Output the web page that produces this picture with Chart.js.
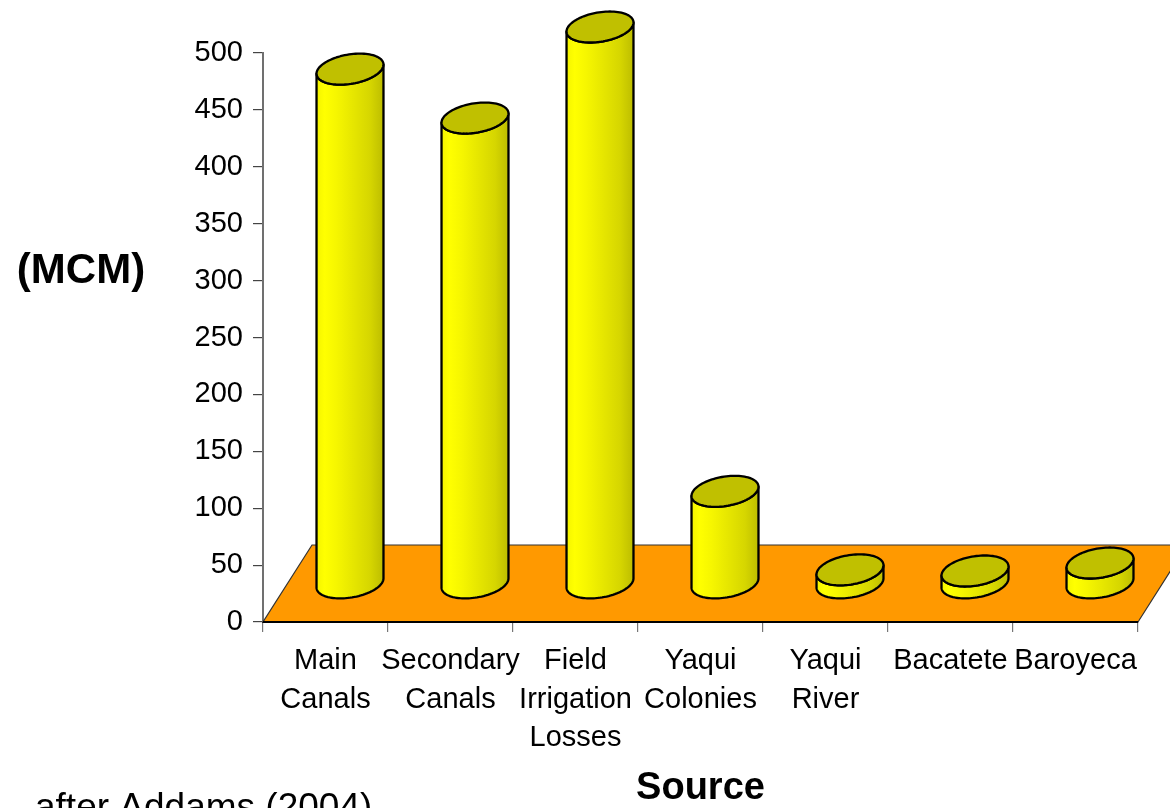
<!DOCTYPE html>
<html>
<head>
<meta charset="utf-8">
<script src="https://cdn.jsdelivr.net/npm/chart.js@4/dist/chart.umd.min.js"></script>
<style>
    html, body { margin: 0; padding: 0; background: #fff; }
    #wrap { width: 1170px; height: 808px; }
</style>
</head>
<body>
<div id="wrap"><canvas id="rechargeChart" width="1170" height="808"></canvas></div>
<script>
// values (MCM)
const categories = [
    ["Main", "Canals"],
    ["Secondary", "Canals"],
    ["Field", "Irrigation", "Losses"],
    ["Yaqui", "Colonies"],
    ["Yaqui", "River"],
    ["Bacatete"],
    ["Baroyeca"]
];
const recharge = [452, 409, 489, 81, 12, 11, 18];
const yMin = 0;
const yMax = 500;
const yStep = 50;

const yTitle = "(MCM)";
const xTitle = "Source";
const credit = "after Addams (2004)";

// oblique depth of the floor
const depthX = 49;
const depthY = 77;
const ringY = 15.5;

const floorPlugin = {
    id: "floor",
    beforeDatasetsDraw(chart) {
        const ctx = chart.ctx;
        const area = chart.chartArea;
        const y0 = chart.scales.y.getPixelForValue(0);
        ctx.save();
        ctx.beginPath();
        ctx.moveTo(area.left, y0);
        ctx.lineTo(area.right, y0);
        ctx.lineTo(area.right + depthX, y0 - depthY);
        ctx.lineTo(area.left + depthX, y0 - depthY);
        ctx.closePath();
        ctx.fillStyle = "#FF9900";
        ctx.fill();
        ctx.lineWidth = 1.2;
        ctx.strokeStyle = "#333";
        ctx.stroke();
        ctx.beginPath();
        ctx.moveTo(area.left, y0);
        ctx.lineTo(area.right, y0);
        ctx.lineWidth = 2;
        ctx.strokeStyle = "#000";
        ctx.stroke();
        ctx.restore();
    }
};

function ringPoint(cx, cy, rx, sx, t) {
    return [cx + rx * Math.cos(t) + sx * Math.sin(t), cy - ringY * Math.sin(t)];
}

const cylinderPlugin = {
    id: "cylinders",
    afterDatasetsDraw(chart) {
        const ctx = chart.ctx;
        const meta = chart.getDatasetMeta(0);
        const sx = ringY * depthX / depthY;
        ctx.save();
        meta.data.forEach(bar => {
            const rx = bar.width / 2;
            const cx = bar.x + depthX / 2;
            const baseY = bar.base - depthY / 2;
            const topY = bar.y - depthY / 2;
            const t0 = Math.atan2(sx, rx);
            const half = Math.sqrt(rx * rx + sx * sx);
            const n = 48;

            // side
            ctx.beginPath();
            for (let i = 0; i <= n; i++) {
                const t = t0 + Math.PI + Math.PI * i / n;
                const p = ringPoint(cx, baseY, rx, sx, t);
                if (i === 0) ctx.moveTo(p[0], p[1]); else ctx.lineTo(p[0], p[1]);
            }
            for (let i = n; i >= 0; i--) {
                const t = t0 + Math.PI + Math.PI * i / n;
                const p = ringPoint(cx, topY, rx, sx, t);
                ctx.lineTo(p[0], p[1]);
            }
            ctx.closePath();
            const grad = ctx.createLinearGradient(cx - half, 0, cx + half, 0);
            grad.addColorStop(0, "#F4F400");
            grad.addColorStop(0.12, "#FFFF00");
            grad.addColorStop(0.3, "#F6F600");
            grad.addColorStop(0.55, "#E6E600");
            grad.addColorStop(0.8, "#D6D600");
            grad.addColorStop(1, "#BDBD00");
            ctx.fillStyle = grad;
            ctx.fill();
            ctx.lineWidth = 2.3;
            ctx.lineJoin = "round";
            ctx.strokeStyle = "#000";
            ctx.stroke();

            // top
            ctx.beginPath();
            for (let i = 0; i <= n * 2; i++) {
                const t = Math.PI * i / n;
                const p = ringPoint(cx, topY, rx, sx, t);
                if (i === 0) ctx.moveTo(p[0], p[1]); else ctx.lineTo(p[0], p[1]);
            }
            ctx.closePath();
            ctx.fillStyle = "#C0C000";
            ctx.fill();
            ctx.stroke();
        });
        ctx.restore();
    }
};

const textPlugin = {
    id: "extraText",
    afterDraw(chart) {
        const ctx = chart.ctx;
        ctx.save();
        ctx.fillStyle = "#000";
        ctx.font = "bold 42px 'Liberation Sans', Arial, sans-serif";
        ctx.textAlign = "center";
        ctx.textBaseline = "middle";
        ctx.fillText(yTitle, 81, 271);
        ctx.font = "37px 'Liberation Sans', Arial, sans-serif";
        ctx.textAlign = "left";
        ctx.textBaseline = "alphabetic";
        ctx.fillText(credit, 35, 819);
        ctx.restore();
    }
};

const rechargeChart = new Chart(document.getElementById("rechargeChart"), {
    type: "bar",
    data: {
        labels: categories,
        datasets: [{
            label: "Recharge (MCM)",
            data: recharge,
            backgroundColor: "rgba(0,0,0,0)",
            borderWidth: 0,
            categoryPercentage: 1,
            barPercentage: 0.512
        }]
    },
    options: {
        responsive: false,
        animation: false,
        devicePixelRatio: 1,
        layout: { padding: { left: 0, right: 32, top: 53, bottom: 0 } },
        plugins: {
            legend: { display: false },
            tooltip: { enabled: false }
        },
        scales: {
            x: {
                afterFit(scale) { scale.height = 186; },
                grid: {
                    drawOnChartArea: false,
                    tickLength: 10,
                    color: "#777",
                    lineWidth: 1.2
                },
                border: { display: true, color: "#000", width: 2 },
                ticks: {
                    color: "#000",
                    padding: 10,
                    maxRotation: 0,
                    autoSkip: false,
                    font: { family: "'Liberation Sans', Arial, sans-serif", size: 29, lineHeight: 1.33 }
                },
                title: {
                    display: true,
                    text: xTitle,
                    color: "#000",
                    padding: { top: 0, bottom: 0 },
                    font: { family: "'Liberation Sans', Arial, sans-serif", size: 38, weight: "bold", lineHeight: 1 }
                }
            },
            y: {
                min: yMin,
                max: yMax,
                afterFit(scale) { scale.width = 263; },
                grid: {
                    drawOnChartArea: false,
                    tickLength: 10,
                    color: "#444",
                    lineWidth: 1.2
                },
                border: { display: true, color: "#707070", width: 2 },
                ticks: {
                    stepSize: yStep,
                    color: "#000",
                    padding: 10,
                    font: { family: "'Liberation Sans', Arial, sans-serif", size: 29 }
                }
            }
        }
    },
    plugins: [floorPlugin, cylinderPlugin, textPlugin]
});
</script>
</body>
</html>
